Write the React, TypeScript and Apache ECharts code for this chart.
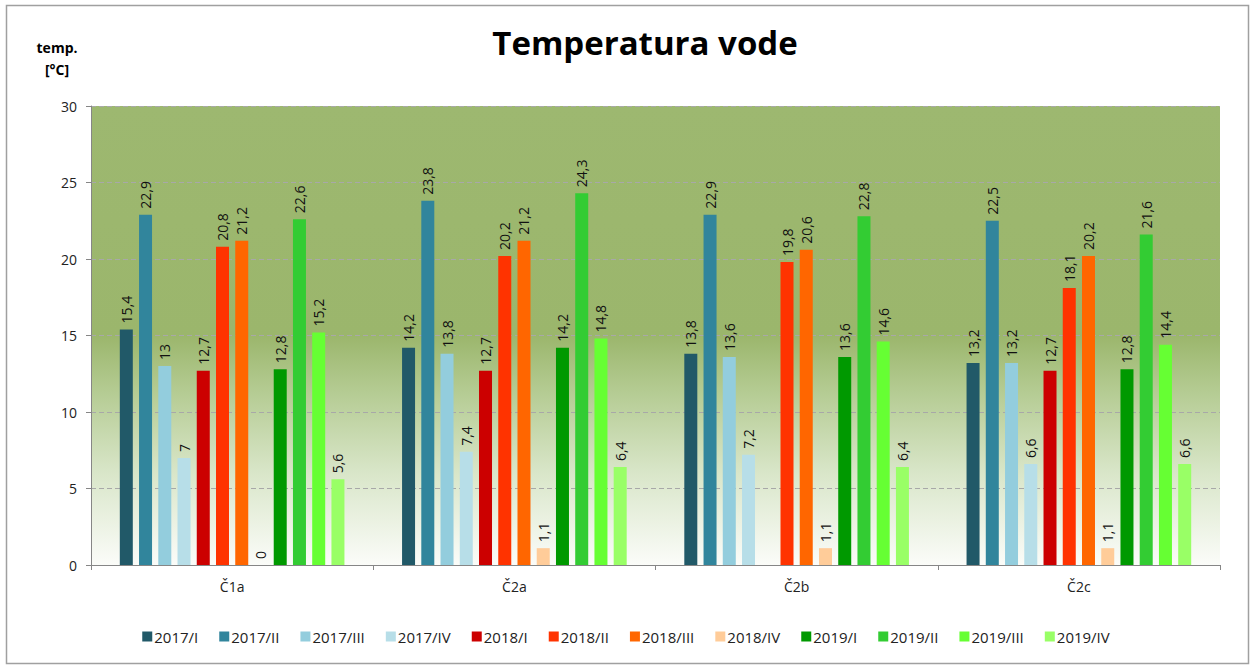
import React, { useEffect, useRef } from "react";
import * as echarts from "echarts";

const categories = ["Č1a", "Č2a", "Č2b", "Č2c"];
const seriesNames = [
  "2017/I", "2017/II", "2017/III", "2017/IV",
  "2018/I", "2018/II", "2018/III", "2018/IV",
  "2019/I", "2019/II", "2019/III", "2019/IV",
];
const seriesColors = [
  "#215968", "#31859C", "#93CDDD", "#B7DEE8",
  "#CC0000", "#FF3300", "#FF6600", "#FFCC99",
  "#009900", "#33CC33", "#66FF33", "#99FF66",
];
// values per series, across categories Č1a, Č2a, Č2b, Č2c
const v2017_I = [15.4, 14.2, 13.8, 13.2];
const v2017_II = [22.9, 23.8, 22.9, 22.5];
const v2017_III = [13, 13.8, 13.6, 13.2];
const v2017_IV = [7, 7.4, 7.2, 6.6];
const v2018_I = [12.7, 12.7, null, 12.7];
const v2018_II = [20.8, 20.2, 19.8, 18.1];
const v2018_III = [21.2, 21.2, 20.6, 20.2];
const v2018_IV = [0, 1.1, 1.1, 1.1];
const v2019_I = [12.8, 14.2, 13.6, 12.8];
const v2019_II = [22.6, 24.3, 22.8, 21.6];
const v2019_III = [15.2, 14.8, 14.6, 14.4];
const v2019_IV = [5.6, 6.4, 6.4, 6.6];
const seriesValues = [
  v2017_I, v2017_II, v2017_III, v2017_IV,
  v2018_I, v2018_II, v2018_III, v2018_IV,
  v2019_I, v2019_II, v2019_III, v2019_IV,
];

const FONT = "'Open Sans', 'DejaVu Sans', sans-serif";

export default function App() {
  const ref = useRef<HTMLDivElement>(null);
  useEffect(() => {
    if (!ref.current) return;
    const chart = echarts.init(ref.current, undefined, { renderer: "svg" });
    chart.setOption({
      animation: false,
      backgroundColor: "#ffffff",
      title: {
        text: "Temperatura vode",
        left: 640,
        top: 21,
        textAlign: "center",
        textStyle: { fontFamily: FONT, fontSize: 33, fontWeight: "bold", color: "#000" },
      },
      graphic: [
        {
          type: "rect",
          shape: { x: 6.5, y: 5.5, width: 1242, height: 658 },
          style: { fill: "none", stroke: "#a0a0a0", lineWidth: 1.5 },
          silent: true,
          z: -1,
        },
      ],
      legend: {
        bottom: 17,
        left: "center",
        itemWidth: 10,
        itemHeight: 10,
        itemGap: 21,
        icon: "rect",
        textStyle: { fontFamily: FONT, fontSize: 15, color: "#222", padding: [0, 0, 0, -3] },
        data: seriesNames,
      },
      grid: {
        left: 91,
        right: 32,
        top: 106,
        bottom: 101,
        show: true,
        borderWidth: 0,
        backgroundColor: new echarts.graphic.LinearGradient(0, 0, 0, 1, [
          { offset: 0, color: "#9db870" },
          { offset: 0.5, color: "#9bb66c" },
          { offset: 0.62, color: "#b4cb92" },
          { offset: 0.8, color: "#d9e6c9" },
          { offset: 1, color: "#fbfcf9" },
        ]),
      },
      xAxis: {
        type: "category",
        data: categories,
        axisLine: { lineStyle: { color: "#868686" } },
        axisTick: { show: true, length: 5, lineStyle: { color: "#868686" } },
        axisLabel: { fontFamily: FONT, fontSize: 14, color: "#222", margin: 14 },
      },
      yAxis: {
        type: "value",
        min: 0,
        max: 30,
        interval: 5,
        name: "temp.\n[°C]",
        nameLocation: "end",
        nameGap: 26,
        nameTextStyle: {
          fontFamily: FONT, fontSize: 14, fontWeight: "bold", color: "#000",
          align: "center", padding: [0, 68, 0, 0], lineHeight: 22,
        },
        axisLine: { show: true, lineStyle: { color: "#868686" } },
        axisTick: { show: true, length: 5, lineStyle: { color: "#868686" } },
        axisLabel: { fontFamily: FONT, fontSize: 14, color: "#222", margin: 14 },
        splitLine: { show: true, lineStyle: { color: "#a8a8a8", type: [5, 3], width: 1.2 } },
      },
      series: seriesNames.map((name, i) => ({
        name,
        type: "bar",
        data: seriesValues[i],
        barWidth: 13,
        barGap: "48%",
        itemStyle: { color: seriesColors[i] },
        label: {
          show: true,
          position: "top",
          rotate: 90,
          align: "left",
          verticalAlign: "middle",
          distance: 6,
          fontFamily: FONT,
          fontSize: 14,
          color: "#111",
          formatter: (p: any) => String(p.value).replace(".", ","),
        },
      })),
    });
    return () => chart.dispose();
  }, []);
  return (
    <div
      ref={ref}
      style={{ position: "fixed", left: 0, top: 0, width: 1252, height: 666 }}
    />
  );
}
